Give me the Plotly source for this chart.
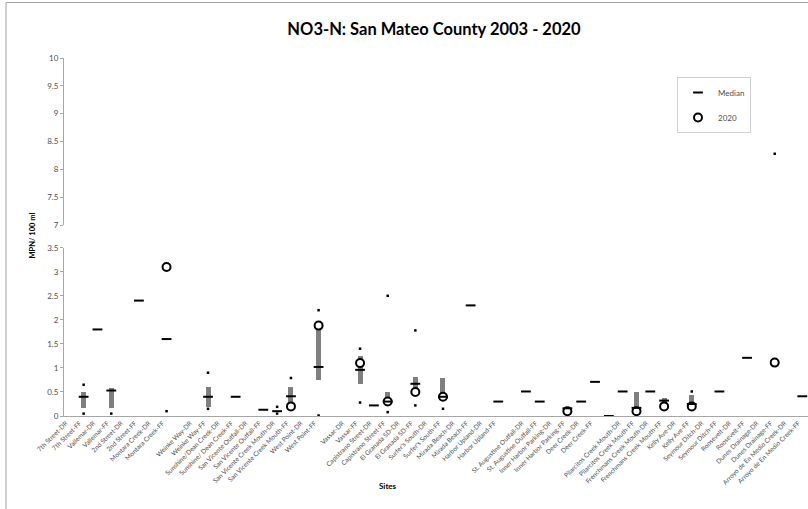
import plotly.graph_objects as go

# ---------------- data ----------------
sites = ["7th Street-DR", "7th Street-FF", "Vallemar-DR", "Vallemar-FF", "2nd Street-DR", "2nd Street-FF",
         "Montara Creek-DR", "Montara Creek-FF", " ", "Weinke Way-DR", "Weinke Way-FF",
         "Sunshine/Dean Creek-DR", "Sunshine/ Dean Creek-FF", "San Vicente Outfall-DR", "San Vicente Outfall-FF",
         "San Vicente Creek Mouth-DR", "San Vicente Creek Mouth-FF", "West Point-DR", "West Point-FF", "  ",
         "Vassar-DR", "Vassar-FF", "Capistrano Street-DR", "Capistrano Street-FF", "El Granada SD-DR",
         "El Granada SD-FF", "Surfer's South-DR", "Surfer's South-FF", "Mirada Beach-DR", "Mirada Beach-FF",
         "Harbor Upland-DR", "Harbor Upland-FF", "   ", "St. Augustine Outfall-DR", "St. Augustine Outfall-FF",
         "Inner Harbor Parking-DR", "Inner Harbor Parking-FF", "Deer Creek-DR", "Deer Creek-FF", "    ",
         "Pilarcitos Creek Mouth-DR", "Pilarcitos Creek Mouth-FF", "Frenchmans Creek Mouth-DR",
         "Frenchmans Creek Mouth-FF", "Kelly Ave-DR", "Kelly Ave-FF", "Seymour Ditch-DR", "Seymour Ditch-FF",
         "Roosevelt-DR", "Roosevelt-FF", "Dunes Drainage-DR", "Dunes Drainage-FF",
         "Arroyo de En Medio Creek-DR", "Arroyo de En Medio Creek-FF"]

N = None
# 25th / 75th percentile (grey bars)
q1 = [N, 0.17, N, 0.17, N, N, N, N, N, N, 0.20, N, N, N, N, N, 0.25, N, 0.76, N,
      N, 0.67, N, 0.24, N, 0.44, N, 0.40, N, N, N, N, N, N, N, N, N, N, N, N,
      N, 0.17, N, 0.20, N, 0.22, N, N, N, N, N, N, N, N]
q3 = [N, 0.51, N, 0.58, N, N, N, N, N, N, 0.60, N, N, N, N, N, 0.60, N, 1.87, N,
      N, 1.25, N, 0.50, N, 0.82, N, 0.80, N, N, N, N, N, N, N, N, N, N, N, N,
      N, 0.50, N, 0.39, N, 0.44, N, N, N, N, N, N, N, N]
median = [N, 0.40, 1.80, 0.53, N, 2.40, N, 1.60, N, N, 0.40, N, 0.40, N, 0.13, 0.10, 0.41, N, 1.02, N,
          N, 0.96, 0.22, 0.30, N, 0.67, N, 0.40, N, 2.30, N, 0.30, N, 0.51, 0.30, N, 0.16, 0.30, 0.71, 0.0,
          0.51, 0.17, 0.51, 0.32, N, 0.25, N, 0.51, N, 1.21, N, N, N, 0.41]
y2020 = [N, N, N, N, N, N, N, 3.10, N, N, N, N, N, N, N, N, 0.20, N, 1.88, N,
         N, 1.10, N, 0.30, N, 0.50, N, 0.40, N, N, N, N, N, N, N, N, 0.10, N, N, N,
         N, 0.10, N, 0.20, N, 0.20, N, N, N, N, N, 1.11, N, N]
maxv = [N, 0.65, N, N, N, N, N, N, N, N, 0.90, N, N, N, N, 0.19, 0.79, N, 2.20, N,
        N, 1.40, N, 2.50, N, 1.78, N, N, N, N, N, N, N, N, N, N, N, N, N, N,
        N, N, N, N, N, 0.51, N, N, N, N, N, 8.28, N, N]
minv = [N, 0.05, N, 0.05, N, N, N, 0.10, N, N, 0.15, N, N, N, N, 0.05, N, N, 0.01, N,
        N, 0.28, N, 0.08, N, 0.22, N, 0.15, N, N, N, N, N, N, N, N, N, N, N, N,
        N, N, N, N, N, N, N, N, N, N, N, N, N, N]

# ---------------- layout helpers ----------------
W, H = 808, 509
L, T, B = 64, 58, 93
plot_h = H - T - B


def px_y(py):
    return (H - B - py) / plot_h


def px_x(px):
    return (px - L) / (W - L)


FONT = "Lato, 'Liberation Sans', Arial, sans-serif"
AXIS = "#a6a6a6"
TXT = "#4d4d4d"

low_max = 3.5
med_low = [v if v is not None and v <= low_max else None for v in median]
max_low = [v if v is not None and v <= low_max else None for v in maxv]
max_high = [v if v is not None and v >= 7 else None for v in maxv]
box_h = [None if a is None else b - a for a, b in zip(q1, q3)]

fig = go.Figure()
fig.add_trace(go.Bar(x=sites, y=box_h, base=q1, width=0.36, marker_color="#7f7f7f",
                     marker_line_width=0, showlegend=False, hoverinfo="skip"))
fig.add_trace(go.Scatter(x=sites, y=y2020, mode="markers", name="2020", cliponaxis=False,
                         legendgroup="b", legendrank=2,
                         marker=dict(symbol="circle", size=8, color="white",
                                     line=dict(color="black", width=2))))
fig.add_trace(go.Scatter(x=sites, y=med_low, mode="markers", name="Median", cliponaxis=False,
                         legendgroup="a", legendrank=1,
                         marker=dict(symbol="line-ew", size=7, line=dict(color="black", width=2))))
fig.add_trace(go.Scatter(x=sites, y=max_low, mode="markers", showlegend=False, cliponaxis=False,
                         marker=dict(symbol="square", size=2.5, color="black")))
fig.add_trace(go.Scatter(x=sites, y=minv, mode="markers", showlegend=False, cliponaxis=False,
                         marker=dict(symbol="square", size=2.5, color="black")))
fig.add_trace(go.Scatter(x=sites, y=max_high, mode="markers", showlegend=False, yaxis="y2",
                         marker=dict(symbol="square", size=2.5, color="black")))

fig.update_layout(
    width=W, height=H,
    margin=dict(l=L, r=0, t=T, b=B),
    paper_bgcolor="white", plot_bgcolor="white",
    font=dict(family=FONT, color=TXT),
    bargap=0,
    title=dict(text="<b>NO3-N: San Mateo County 2003 - 2020</b>", x=434 / W, xref="container",
               xanchor="center", y=1 - 29 / H, yref="container", yanchor="middle",
               font=dict(size=16.5, color="black", family=FONT)),
    xaxis=dict(type="category", categoryorder="array", categoryarray=sites,
               range=[-0.42, 53.41], tickangle=-45, tickfont=dict(size=6.5, color=TXT),
               ticklabelshift=-4,
               showline=True, linecolor=AXIS, linewidth=1, ticks="", showgrid=False,
               zeroline=False, automargin=False, anchor="y"),
    yaxis=dict(domain=[0, px_y(247.7)], range=[0, 3.5], dtick=0.5, showline=True, linecolor=AXIS,
               ticks="outside", ticklen=3, tickcolor=AXIS, tickfont=dict(size=8, color=TXT),
               showgrid=False, zeroline=False, automargin=False),
    yaxis2=dict(domain=[px_y(225), 1], range=[7, 10], dtick=0.5, showline=True, linecolor=AXIS,
                ticks="outside", ticklen=3, tickcolor=AXIS, tickfont=dict(size=8, color=TXT),
                showgrid=False, zeroline=False, automargin=False, anchor="x"),
    legend=dict(x=px_x(677), y=px_y(77), xanchor="left", yanchor="top", bgcolor="white",
                bordercolor="#d0d0d0", borderwidth=1, font=dict(size=8, color=TXT),
                itemwidth=30, tracegroupgap=6),
    annotations=[
        dict(text="<b>MPN/ 100 ml</b>", x=px_x(25), y=px_y(236), xref="paper", yref="paper",
             textangle=-90, showarrow=False, font=dict(size=7.5, color="black")),
        dict(text="<b>Sites</b>", x=px_x(388), y=px_y(493), xref="paper", yref="paper",
             showarrow=False, font=dict(size=8, color="black")),
    ],
    shapes=[
        dict(type="line", xref="paper", yref="paper", x0=px_x(6), x1=px_x(6), y0=px_y(2.5), y1=px_y(509),
             line=dict(color="#a0a0a0", width=1)),
        dict(type="line", xref="paper", yref="paper", x0=px_x(6), x1=px_x(808), y0=px_y(2.5), y1=px_y(2.5),
             line=dict(color="#a0a0a0", width=1)),
    ],
)

# the page body has a default 8px margin; drop it so the figure sits at the window's corner
fig.write_html("out.html", config={"displayModeBar": False},
               post_script="document.body.style.margin='0';")
